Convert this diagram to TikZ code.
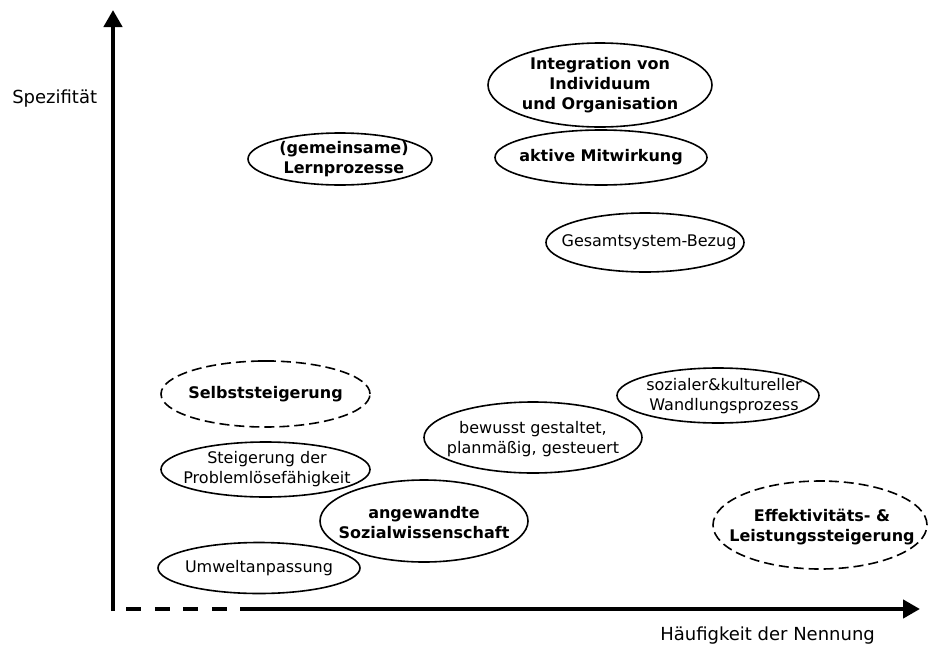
\documentclass[tikz,border=0pt]{standalone}
\usepackage{fontspec}
\setmainfont{DejaVu Sans}
\usetikzlibrary{arrows.meta,shapes.geometric}

\tikzset{
  axis/.style={line width=3.4pt},
  axisarrow/.style={axis,-{Triangle[length=12.75pt,width=13.5pt]}},
  axisdash/.style={axis,dash pattern=on 11.25pt off 10.1pt,dash phase=11.25pt},
  oval/.style={ellipse,draw,line width=1.2pt,inner sep=0pt,outer sep=0pt},
  dashedoval/.style={oval,dash pattern=on 7.5pt off 3.75pt},
  seam/.style={line width=1.8pt},
  txt/.style={font=\fontsize{12}{15}\selectfont,align=center,inner sep=0pt},
  btxt/.style={txt,font=\fontsize{12}{15}\selectfont\bfseries},
  axislabel/.style={font=\fontsize{13.5}{16}\selectfont,inner sep=0pt,anchor=base west}
}

\begin{document}
\begin{tikzpicture}[x=0.75pt,y=-0.75pt]
\useasboundingbox (0,0) rectangle (928,650);

% axes
\coordinate (O) at (113,609);
\coordinate (ytip) at (113,10);
\coordinate (xdash) at (240,609);
\coordinate (xtip) at (920,609);
\draw[axisarrow] (113,611) -- (ytip);
\draw[axisdash] (O) -- (xdash);
\draw[axisarrow] (xdash) -- (xtip);

\node[axislabel] (ylab) at (12,103) {Spezifität};
\node[axislabel] (xlab) at (660,640) {Häufigkeit der Nennung};

% ovals
\node[oval,minimum width=168pt,minimum height=63pt] (integ) at (600,85) {};
\node[btxt] (integ-t) at (integ) {Integration von\\Individuum\\und Organisation};

\node[oval,minimum width=159pt,minimum height=41.25pt] (aktiv) at (601,157.5) {};
\node[btxt] (aktiv-t) at (aktiv) {aktive Mitwirkung};

\node[oval,minimum width=138pt,minimum height=39pt] (lern) at (340,159) {};
\node[btxt] (lern-t) at (344,159) {(gemeinsame)\\Lernprozesse};

\node[oval,minimum width=148.5pt,minimum height=44.25pt] (gesamt) at (645,242.5) {};
\node[txt] (gesamt-t) at (649,242.5) {Gesamtsystem-Bezug};

\node[dashedoval,minimum width=156.75pt,minimum height=49.5pt] (selbst) at (265.5,394) {};
\node[btxt] (selbst-t) at (selbst) {Selbststeigerung};
\draw[seam] ([xshift=-6pt]selbst.north) -- ([xshift=6pt]selbst.north);

\node[oval,minimum width=156.75pt,minimum height=41.25pt] (steig) at (265.5,469.5) {};
\node[txt] (steig-t) at (267,469.5) {Steigerung der\\Problemlösefähigkeit};

\node[oval,minimum width=163.5pt,minimum height=53.25pt] (bewusst) at (533,437.5) {};
\node[txt] (bewusst-t) at (533,439) {bewusst gestaltet,\\planmäßig, gesteuert};

\node[oval,minimum width=151.5pt,minimum height=41.25pt] (sozial) at (718,395.5) {};
\node[txt] (sozial-t) at (724,396) {sozialer\&kultureller\\Wandlungsprozess};

\node[oval,minimum width=156pt,minimum height=61.5pt] (angew) at (424,521) {};
\node[btxt] (angew-t) at (424,523) {angewandte\\Sozialwissenschaft};

\node[oval,minimum width=151.5pt,minimum height=38.25pt] (umwelt) at (259,568) {};
\node[txt] (umwelt-t) at (umwelt) {Umweltanpassung};

\node[dashedoval,minimum width=160.5pt,minimum height=66pt] (effekt) at (820,525) {};
\node[btxt] (effekt-t) at (822,527) {Effektivitäts- \&\\Leistungssteigerung};
\draw[seam] ([xshift=-3pt]effekt.north) -- ([xshift=4pt]effekt.north);

\end{tikzpicture}
\end{document}
